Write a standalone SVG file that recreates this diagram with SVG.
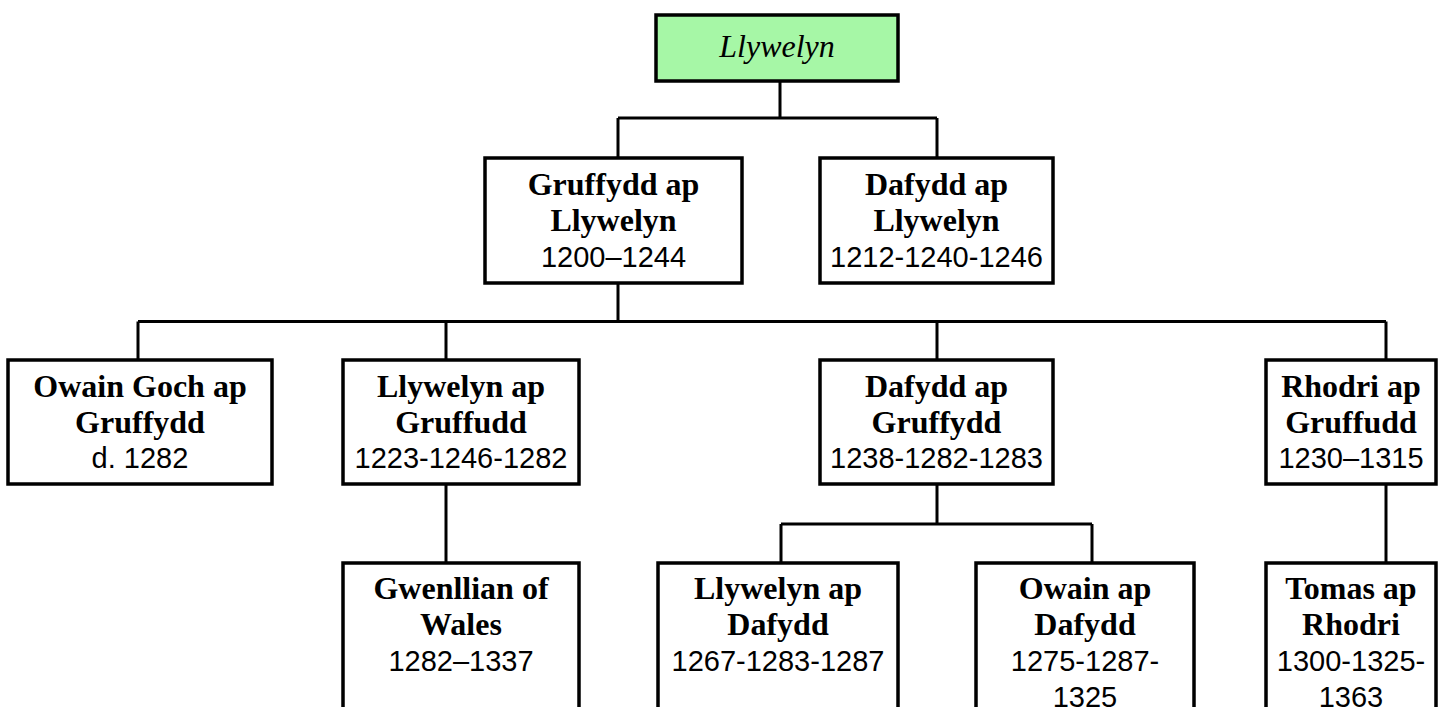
<svg xmlns="http://www.w3.org/2000/svg" width="1444" height="707" viewBox="0 0 1444 707">
<style>
.box{fill:#fff;stroke:#000;stroke-width:3.5}
.root{fill:#a6f7a6;stroke:#000;stroke-width:3.5}
.name{font-family:"Liberation Serif","Times New Roman",serif;font-weight:bold;font-size:32px;text-anchor:middle;fill:#000}
.it{font-family:"Liberation Serif","Times New Roman",serif;font-style:italic;font-size:32px;text-anchor:middle;fill:#000}
.date{font-family:"Liberation Sans",Arial,sans-serif;font-size:29px;text-anchor:middle;fill:#000}
.con{fill:none;stroke:#000;stroke-width:3}
</style>
<rect width="1444" height="707" fill="#fff"/>
<g id="connectors">
<path class="con" d="M780,81V118M618,118H937M618,118V158M937,118V158"/>
<path class="con" d="M618,283V321.5M138,321.5H1386M138,321.5V360M446,321.5V360M937,321.5V360M1386,321.5V360"/>
<path class="con" d="M446,484V563"/>
<path class="con" d="M937,484V524M781,524H1092M781,524V563M1092,524V563"/>
<path class="con" d="M1386,484V563"/>
</g>
<g id="n0"><rect class="root" x="656" y="15" width="242" height="66"/><text class="it" x="777" y="57">Llywelyn</text></g>
<g id="n1"><rect class="box" x="485" y="158" width="257" height="125"/><text class="name" x="613.5" y="195">Gruffydd ap</text><text class="name" x="613.5" y="230.5">Llywelyn</text><text class="date" x="613.5" y="266.5">1200–1244</text></g>
<g id="n2"><rect class="box" x="820" y="158" width="233" height="125"/><text class="name" x="936.5" y="195">Dafydd ap</text><text class="name" x="936.5" y="230.5">Llywelyn</text><text class="date" x="936.5" y="266.5">1212-1240-1246</text></g>
<g id="n3"><rect class="box" x="8" y="360" width="264" height="124"/><text class="name" x="140" y="397">Owain Goch ap</text><text class="name" x="140" y="432.5">Gruffydd</text><text class="date" x="140" y="468">d. 1282</text></g>
<g id="n4"><rect class="box" x="343" y="360" width="236" height="124"/><text class="name" x="461" y="397">Llywelyn ap</text><text class="name" x="461" y="432.5">Gruffudd</text><text class="date" x="461" y="468">1223-1246-1282</text></g>
<g id="n5"><rect class="box" x="820" y="360" width="233" height="124"/><text class="name" x="936.5" y="397">Dafydd ap</text><text class="name" x="936.5" y="432.5">Gruffydd</text><text class="date" x="936.5" y="468">1238-1282-1283</text></g>
<g id="n6"><rect class="box" x="1266" y="360" width="170" height="124"/><text class="name" x="1351" y="397">Rhodri ap</text><text class="name" x="1351" y="432.5">Gruffudd</text><text class="date" x="1351" y="468">1230–1315</text></g>
<g id="n7"><rect class="box" x="343" y="563" width="236" height="200"/><text class="name" x="461" y="599">Gwenllian of</text><text class="name" x="461" y="635">Wales</text><text class="date" x="461" y="671">1282–1337</text></g>
<g id="n8"><rect class="box" x="658" y="563" width="240" height="200"/><text class="name" x="778" y="599">Llywelyn ap</text><text class="name" x="778" y="635">Dafydd</text><text class="date" x="778" y="671">1267-1283-1287</text></g>
<g id="n9"><rect class="box" x="976" y="563" width="218" height="200"/><text class="name" x="1085" y="599">Owain ap</text><text class="name" x="1085" y="635">Dafydd</text><text class="date" x="1085" y="671">1275-1287-</text><text class="date" x="1085" y="707">1325</text></g>
<g id="n10"><rect class="box" x="1266" y="563" width="170" height="200"/><text class="name" x="1351" y="599">Tomas ap</text><text class="name" x="1351" y="635">Rhodri</text><text class="date" x="1351" y="671">1300-1325-</text><text class="date" x="1351" y="707">1363</text></g>
</svg>
